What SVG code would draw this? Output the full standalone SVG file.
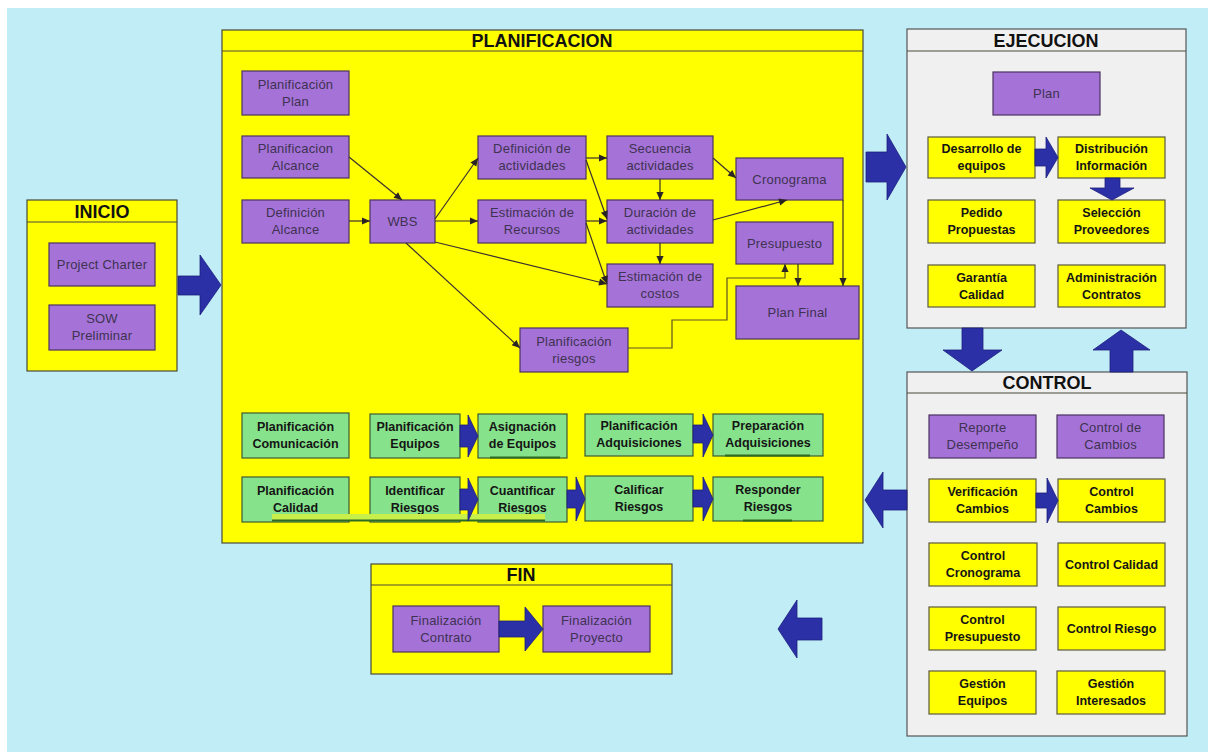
<svg xmlns="http://www.w3.org/2000/svg" width="1208" height="753" viewBox="0 0 1208 753">
  <style>
    .panelY { fill: #ffff00; stroke: #4a4a3a; stroke-width: 1.2; }
    .panelG { fill: #f1f0f0; stroke: #555555; stroke-width: 1.2; }
    .band { stroke: #4a4a3a; stroke-width: 1.2; }
    .title { font-family: "Liberation Sans", Arial, sans-serif; font-size: 18px; font-weight: bold; fill: #111111; text-anchor: middle; }
    .pbox { fill: #a572d8; stroke: #4b3360; stroke-width: 1.2; }
    .gbox { fill: #86e38c; stroke: #3f5a34; stroke-width: 1.2; }
    .ybox { fill: #ffff00; stroke: #5a5a40; stroke-width: 1.2; }
    .pt { font-family: "Liberation Sans", Arial, sans-serif; font-size: 13px; letter-spacing: 0.2px; fill: #3e3350; text-anchor: middle; }
    .bt { font-family: "Liberation Sans", Arial, sans-serif; font-size: 12.5px; font-weight: bold; fill: #151515; text-anchor: middle; }
    .link { fill: none; stroke: #3a3030; stroke-width: 1.2; marker-end: url(#tip); }
    .link.olive { stroke: #5e5224; stroke-width: 1.2; }
    .block { fill: #2b30a6; stroke: #1c1f7e; stroke-width: 0.8; stroke-linejoin: round; }
    .uline { stroke: #2f6a22; stroke-width: 2; }
  </style>
  <defs>
    <marker id="tip" viewBox="0 0 10 10" refX="10" refY="5" markerWidth="9" markerHeight="8" markerUnits="userSpaceOnUse" orient="auto">
      <path d="M0,0.5 L10,5 L0,9.5 Z" fill="#2b2424"/>
    </marker>
  </defs>

  <!-- sheet -->
  <rect x="0" y="0" width="1208" height="753" fill="#ffffff"/>
  <rect x="7" y="8" width="1201" height="744" fill="#c1eef6"/>

  <!-- INICIO -->
  <g id="inicio">
    <rect class="panelY" x="27" y="200" width="150" height="171"/>
    <line class="band" x1="27" y1="222" x2="177" y2="222"/>
    <text class="title" x="102" y="218">INICIO</text>
  </g>
  <g id="project-charter">
    <rect class="pbox" x="49" y="243" width="106" height="43"/>
    <text class="pt" x="102" y="269">Project Charter</text>
  </g>
  <g id="sow-preliminar">
    <rect class="pbox" x="49" y="305" width="106" height="45"/>
    <text class="pt" x="102" y="323">SOW</text>
    <text class="pt" x="102" y="340">Preliminar</text>
  </g>

  <!-- PLANIFICACION -->
  <g id="planificacion">
    <rect class="panelY" x="222" y="30" width="641" height="513"/>
    <line class="band" x1="222" y1="51" x2="863" y2="51"/>
    <text class="title" x="542" y="47">PLANIFICACION</text>
  </g>
  <g id="planificacion-plan">
    <rect class="pbox" x="242" y="71" width="107" height="44"/>
    <text class="pt" x="295.5" y="89">Planificación</text>
    <text class="pt" x="295.5" y="106">Plan</text>
  </g>
  <g id="planificacion-alcance">
    <rect class="pbox" x="242" y="136" width="107" height="42"/>
    <text class="pt" x="295.5" y="153">Planificacion</text>
    <text class="pt" x="295.5" y="170">Alcance</text>
  </g>
  <g id="definicion-alcance">
    <rect class="pbox" x="242" y="200" width="107" height="43"/>
    <text class="pt" x="295.5" y="217">Definición</text>
    <text class="pt" x="295.5" y="234">Alcance</text>
  </g>
  <g id="wbs">
    <rect class="pbox" x="370" y="200" width="65" height="43"/>
    <text class="pt" x="402.5" y="226">WBS</text>
  </g>
  <g id="definicion-actividades">
    <rect class="pbox" x="478" y="136" width="108" height="43"/>
    <text class="pt" x="532" y="153">Definición de</text>
    <text class="pt" x="532" y="170">actividades</text>
  </g>
  <g id="secuencia-actividades">
    <rect class="pbox" x="607" y="136" width="106" height="43"/>
    <text class="pt" x="660" y="153">Secuencia</text>
    <text class="pt" x="660" y="170">actividades</text>
  </g>
  <g id="cronograma">
    <rect class="pbox" x="736" y="158" width="107" height="42"/>
    <text class="pt" x="789.5" y="183.5">Cronograma</text>
  </g>
  <g id="estimacion-recursos">
    <rect class="pbox" x="478" y="200" width="108" height="43"/>
    <text class="pt" x="532" y="217">Estimación de</text>
    <text class="pt" x="532" y="234">Recursos</text>
  </g>
  <g id="duracion-actividades">
    <rect class="pbox" x="607" y="200" width="106" height="43"/>
    <text class="pt" x="660" y="217">Duración de</text>
    <text class="pt" x="660" y="234">actividades</text>
  </g>
  <g id="presupuesto">
    <rect class="pbox" x="736" y="222" width="97" height="42"/>
    <text class="pt" x="784.5" y="247.5">Presupuesto</text>
  </g>
  <g id="estimacion-costos">
    <rect class="pbox" x="607" y="264" width="106" height="43"/>
    <text class="pt" x="660" y="281">Estimación de</text>
    <text class="pt" x="660" y="298">costos</text>
  </g>
  <g id="plan-final">
    <rect class="pbox" x="736" y="286" width="123" height="53"/>
    <text class="pt" x="797.5" y="317">Plan Final</text>
  </g>
  <g id="planificacion-riesgos">
    <rect class="pbox" x="520" y="328" width="108" height="44"/>
    <text class="pt" x="574" y="346">Planificación</text>
    <text class="pt" x="574" y="363">riesgos</text>
  </g>

  <g id="planificacion-comunicacion">
    <rect class="gbox" x="242" y="413" width="107" height="45"/>
    <text class="bt" x="295.5" y="431">Planificación</text>
    <text class="bt" x="295.5" y="448">Comunicación</text>
  </g>
  <g id="planificacion-equipos">
    <rect class="gbox" x="370" y="414" width="90" height="44"/>
    <text class="bt" x="415" y="431">Planificación</text>
    <text class="bt" x="415" y="448">Equipos</text>
  </g>
  <g id="asignacion-equipos">
    <rect class="gbox" x="478" y="414" width="89" height="44"/>
    <text class="bt" x="522.5" y="431">Asignación</text>
    <text class="bt" x="522.5" y="448">de Equipos</text>
  </g>
  <g id="planificacion-adquisiciones">
    <rect class="gbox" x="585" y="414" width="108" height="42"/>
    <text class="bt" x="639" y="430">Planificación</text>
    <text class="bt" x="639" y="447">Adquisiciones</text>
  </g>
  <g id="preparacion-adquisiciones">
    <rect class="gbox" x="713" y="414" width="110" height="42"/>
    <text class="bt" x="768" y="430">Preparación</text>
    <text class="bt" x="768" y="447">Adquisiciones</text>
  </g>
  <g id="planificacion-calidad">
    <rect class="gbox" x="242" y="477" width="107" height="45"/>
    <text class="bt" x="295.5" y="495">Planificación</text>
    <text class="bt" x="295.5" y="512">Calidad</text>
  </g>
  <g id="identificar-riesgos">
    <rect class="gbox" x="370" y="477" width="90" height="45"/>
    <text class="bt" x="415" y="495">Identificar</text>
    <text class="bt" x="415" y="512">Riesgos</text>
  </g>
  <g id="cuantificar-riesgos">
    <rect class="gbox" x="478" y="477" width="89" height="45"/>
    <text class="bt" x="522.5" y="495">Cuantificar</text>
    <text class="bt" x="522.5" y="512">Riesgos</text>
  </g>
  <g id="calificar-riesgos">
    <rect class="gbox" x="585" y="476" width="108" height="45"/>
    <text class="bt" x="639" y="494">Calificar</text>
    <text class="bt" x="639" y="511">Riesgos</text>
  </g>
  <g id="responder-riesgos">
    <rect class="gbox" x="713" y="477" width="110" height="44"/>
    <text class="bt" x="768" y="494">Responder</text>
    <text class="bt" x="768" y="511">Riesgos</text>
  </g>

  <!-- strip and underlines along the green rows -->
  <g id="green-rules">
    <rect x="272" y="514" width="273" height="6" fill="#c9f04a"/>
    <line class="uline" x1="272" y1="520.5" x2="545" y2="520.5"/>
    <line class="uline" x1="490" y1="457.5" x2="560" y2="457.5"/>
    <line class="uline" x1="725" y1="455.5" x2="810" y2="455.5"/>
    <line class="uline" x1="743" y1="520.5" x2="792" y2="520.5"/>
  </g>

  <!-- EJECUCION -->
  <g id="ejecucion">
    <rect class="panelG" x="907" y="29" width="279" height="299"/>
    <line class="band" x1="907" y1="51" x2="1186" y2="51"/>
    <text class="title" x="1046" y="47">EJECUCION</text>
  </g>
  <g id="plan">
    <rect class="pbox" x="993" y="72" width="107" height="43"/>
    <text class="pt" x="1046.5" y="98">Plan</text>
  </g>
  <g id="desarrollo-equipos">
    <rect class="ybox" x="928" y="137" width="107" height="41"/>
    <text class="bt" x="981.5" y="153">Desarrollo de</text>
    <text class="bt" x="981.5" y="170">equipos</text>
  </g>
  <g id="distribucion-informacion">
    <rect class="ybox" x="1058" y="137" width="107" height="41"/>
    <text class="bt" x="1111.5" y="153">Distribución</text>
    <text class="bt" x="1111.5" y="170">Información</text>
  </g>
  <g id="pedido-propuestas">
    <rect class="ybox" x="928" y="200" width="107" height="43"/>
    <text class="bt" x="981.5" y="217">Pedido</text>
    <text class="bt" x="981.5" y="234">Propuestas</text>
  </g>
  <g id="seleccion-proveedores">
    <rect class="ybox" x="1058" y="200" width="107" height="43"/>
    <text class="bt" x="1111.5" y="217">Selección</text>
    <text class="bt" x="1111.5" y="234">Proveedores</text>
  </g>
  <g id="garantia-calidad">
    <rect class="ybox" x="928" y="265" width="107" height="42"/>
    <text class="bt" x="981.5" y="282">Garantía</text>
    <text class="bt" x="981.5" y="299">Calidad</text>
  </g>
  <g id="administracion-contratos">
    <rect class="ybox" x="1058" y="265" width="107" height="42"/>
    <text class="bt" x="1111.5" y="282">Administración</text>
    <text class="bt" x="1111.5" y="299">Contratos</text>
  </g>

  <!-- CONTROL -->
  <g id="control">
    <rect class="panelG" x="907" y="372" width="280" height="364"/>
    <line class="band" x1="907" y1="393" x2="1187" y2="393"/>
    <text class="title" x="1047" y="389">CONTROL</text>
  </g>
  <g id="reporte-desempeno">
    <rect class="pbox" x="929" y="415" width="107" height="43"/>
    <text class="pt" x="982.5" y="432">Reporte</text>
    <text class="pt" x="982.5" y="449">Desempeño</text>
  </g>
  <g id="control-de-cambios">
    <rect class="pbox" x="1057" y="415" width="107" height="43"/>
    <text class="pt" x="1110.5" y="432">Control de</text>
    <text class="pt" x="1110.5" y="449">Cambios</text>
  </g>
  <g id="verificacion-cambios">
    <rect class="ybox" x="929" y="479" width="107" height="43"/>
    <text class="bt" x="982.5" y="496">Verificación</text>
    <text class="bt" x="982.5" y="513">Cambios</text>
  </g>
  <g id="control-cambios">
    <rect class="ybox" x="1058" y="479" width="107" height="43"/>
    <text class="bt" x="1111.5" y="496">Control</text>
    <text class="bt" x="1111.5" y="513">Cambios</text>
  </g>
  <g id="control-cronograma">
    <rect class="ybox" x="929" y="543" width="108" height="43"/>
    <text class="bt" x="983" y="560">Control</text>
    <text class="bt" x="983" y="577">Cronograma</text>
  </g>
  <g id="control-calidad">
    <rect class="ybox" x="1058" y="543" width="107" height="43"/>
    <text class="bt" x="1111.5" y="569">Control Calidad</text>
  </g>
  <g id="control-presupuesto">
    <rect class="ybox" x="929" y="607" width="107" height="43"/>
    <text class="bt" x="982.5" y="624">Control</text>
    <text class="bt" x="982.5" y="641">Presupuesto</text>
  </g>
  <g id="control-riesgo">
    <rect class="ybox" x="1058" y="607" width="107" height="43"/>
    <text class="bt" x="1111.5" y="633">Control Riesgo</text>
  </g>
  <g id="gestion-equipos">
    <rect class="ybox" x="929" y="671" width="107" height="43"/>
    <text class="bt" x="982.5" y="688">Gestión</text>
    <text class="bt" x="982.5" y="705">Equipos</text>
  </g>
  <g id="gestion-interesados">
    <rect class="ybox" x="1057" y="671" width="108" height="43"/>
    <text class="bt" x="1111" y="688">Gestión</text>
    <text class="bt" x="1111" y="705">Interesados</text>
  </g>

  <!-- FIN -->
  <g id="fin">
    <rect class="panelY" x="371" y="564" width="301" height="110"/>
    <line class="band" x1="371" y1="585" x2="672" y2="585"/>
    <text class="title" x="521" y="581">FIN</text>
  </g>
  <g id="finalizacion-contrato">
    <rect class="pbox" x="393" y="606" width="106" height="46"/>
    <text class="pt" x="446" y="625">Finalización</text>
    <text class="pt" x="446" y="642">Contrato</text>
  </g>
  <g id="finalizacion-proyecto">
    <rect class="pbox" x="543" y="606" width="107" height="46"/>
    <text class="pt" x="596.5" y="625">Finalización</text>
    <text class="pt" x="596.5" y="642">Proyecto</text>
  </g>

  <!-- connectors -->
  <g id="connectors">
    <line class="link" x1="349" y1="157" x2="402" y2="200"/>
    <line class="link" x1="349" y1="221" x2="370" y2="221"/>
    <line class="link" x1="435" y1="219" x2="478" y2="158"/>
    <line class="link" x1="435" y1="221" x2="478" y2="221"/>
    <line class="link" x1="435" y1="242" x2="607" y2="284"/>
    <line class="link" x1="406" y1="243" x2="520" y2="348"/>
    <line class="link" x1="586" y1="158" x2="607" y2="158"/>
    <line class="link" x1="586" y1="160" x2="607" y2="219"/>
    <line class="link" x1="586" y1="221" x2="607" y2="221"/>
    <line class="link" x1="586" y1="223" x2="607" y2="284"/>
    <line class="link" x1="660" y1="179" x2="660" y2="200"/>
    <line class="link" x1="660" y1="243" x2="660" y2="264"/>
    <line class="link" x1="713" y1="158" x2="736" y2="178"/>
    <line class="link" x1="713" y1="220" x2="787" y2="200"/>
    <line class="link" x1="843" y1="200" x2="843" y2="286"/>
    <line class="link" x1="798" y1="264" x2="798" y2="286"/>
    <polyline class="link olive" points="628,348 672,348 672,320 727,320 727,278 785,278 785,264"/>

    <!-- block arrows -->
    <path class="block" d="M178,276 L200,276 L200,255 L221,285 L200,315 L200,295 L178,295 Z"/>
    <path class="block" d="M866,152 L887,152 L887,134 L906,167 L887,200 L887,182 L866,182 Z"/>
    <path class="block" d="M1035,149 L1046,149 L1046,137 L1058,157.5 L1046,178 L1046,166 L1035,166 Z"/>
    <path class="block" d="M1105,178 L1105,188 L1090,188 L1112,200 L1134,188 L1120,188 L1120,178 Z"/>
    <path class="block" d="M962,328 L983,328 L983,350 L1002,350 L972,371 L943,350 L962,350 Z"/>
    <path class="block" d="M1110,372 L1110,350 L1093,350 L1121,330 L1150,350 L1133,350 L1133,372 Z"/>
    <path class="block" d="M907,490 L883,490 L883,472 L865,500 L883,528 L883,510 L907,510 Z"/>
    <path class="block" d="M1036,493 L1047,493 L1047,478 L1058,500.5 L1047,523 L1047,508 L1036,508 Z"/>
    <path class="block" d="M460,425 L468,425 L468,415 L478,436 L468,457 L468,447 L460,447 Z"/>
    <path class="block" d="M460,489 L468,489 L468,478 L478,499.5 L468,521 L468,510 L460,510 Z"/>
    <path class="block" d="M567,490 L576,490 L576,477 L585,499 L576,521 L576,508 L567,508 Z"/>
    <path class="block" d="M693,425 L703,425 L703,414 L713,435 L703,457 L703,443 L693,443 Z"/>
    <path class="block" d="M693,490 L703,490 L703,477 L713,499 L703,521 L703,507 L693,507 Z"/>
    <path class="block" d="M499,621 L525,621 L525,607 L543,629 L525,651 L525,637 L499,637 Z"/>
    <path class="block" d="M822,618 L797,618 L797,600 L778,629 L797,658 L797,640 L822,640 Z"/>
  </g>
</svg>
